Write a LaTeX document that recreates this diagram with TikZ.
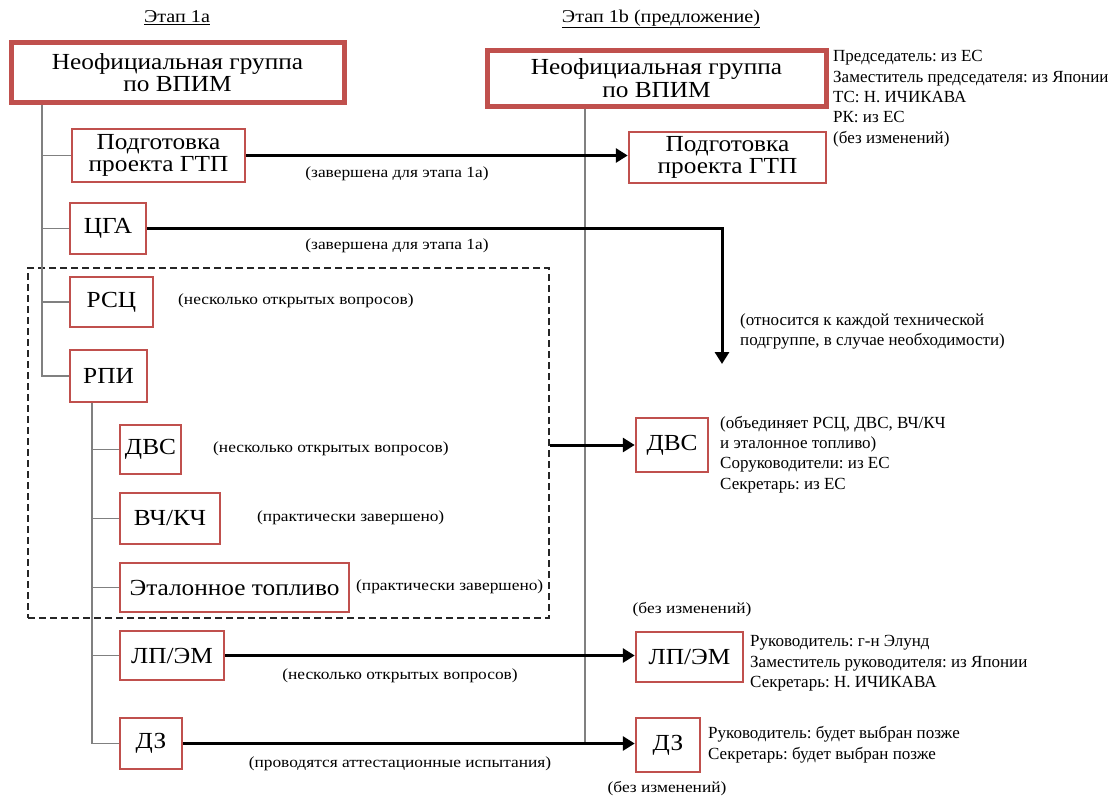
\documentclass[tikz,border=0pt]{standalone}
\usepackage{fontspec}
\setmainfont{Liberation Serif}
\newfontfamily\boxfont[FakeStretch=1.1]{Liberation Serif}
\newfontfamily\lblfont[FakeStretch=1.12]{Liberation Serif}
\usetikzlibrary{arrows.meta}
\definecolor{boxred}{RGB}{192,80,77}
\definecolor{conngray}{RGB}{128,128,128}
\frenchspacing
\begin{document}
\begin{tikzpicture}[x=1pt,y=-1pt,
  boxbase/.style={draw=boxred,fill=white,inner sep=0pt,align=center,font=\boxfont\fontsize{23}{22.5}\selectfont},
  mainbox/.style={boxbase,line width=5pt},
  subbox/.style={boxbase,line width=2.5pt},
  conn/.style={draw=conngray,line width=1.6pt},
  bigarrow/.style={draw=black,line width=3pt,-{Triangle[length=12pt,width=14pt]}},
  lbl/.style={inner sep=0pt,font=\lblfont\fontsize{15.5}{18}\selectfont},
  ttl/.style={inner sep=0pt,font=\lblfont\fontsize{18}{21}\selectfont},
  info/.style={inner sep=0pt,align=left,anchor=north west,font=\fontsize{17}{20.3}\selectfont},
  dashbox/.style={draw=black!85,line width=2pt,dash pattern=on 7pt off 4pt,inner sep=0pt}
]
\useasboundingbox (0,0) rectangle (1117,801);

% titles
\node[ttl] (t1) at (177,18) {\underline{Этап 1а}};
\node[ttl] (t2) at (661,19) {\underline{Этап 1b (предложение)}};

% dashed grouping box
\node[dashbox,minimum width=521pt,minimum height=350pt] (dash) at (288.5,443) {};

% guide coordinates
\coordinate (vL) at (42,0);
\coordinate (vS) at (92,0);
\coordinate (vR) at (585,0);

% left column
\node[mainbox,minimum width=333pt,minimum height=60pt] (mainL) at (177.5,72.5) {Неофициальная группа\\по ВПИМ};
\node[subbox,minimum width=173pt,minimum height=53pt] (gtpL) at (158.5,155.5) {Подготовка\\проекта ГТП};
\node[subbox,minimum width=76pt,minimum height=51pt] (cga) at (108,228.5) {ЦГА};
\node[subbox,minimum width=83pt,minimum height=50pt] (rsc) at (111.5,302) {РСЦ};
\node[subbox,minimum width=77pt,minimum height=52pt] (rpi) at (108.5,376) {РПИ};
\node[subbox,minimum width=61pt,minimum height=49pt] (dvsL) at (150.5,449.5) {ДВС};
\node[subbox,minimum width=100pt,minimum height=51pt] (vch) at (170,518.5) {ВЧ/КЧ};
\node[subbox,minimum width=229pt,minimum height=49pt] (etl) at (234.5,587.5) {Эталонное топливо};
\node[subbox,minimum width=104pt,minimum height=49pt] (lpL) at (172,655.5) {ЛП/ЭМ};
\node[subbox,minimum width=62pt,minimum height=51pt] (dzL) at (151,743.5) {ДЗ};

% right column
\node[mainbox,minimum width=339pt,minimum height=56pt] (mainR) at (656.5,78) {Неофициальная группа\\по ВПИМ};
\node[subbox,minimum width=197pt,minimum height=51pt] (gtpR) at (727.5,157.5) {Подготовка\\проекта ГТП};
\node[subbox,minimum width=72pt,minimum height=54pt] (dvsR) at (672,445) {ДВС};
\node[subbox,minimum width=107pt,minimum height=50pt] (lpR) at (689.5,657) {ЛП/ЭМ};
\node[subbox,minimum width=64pt,minimum height=54pt] (dzR) at (668,745) {ДЗ};

% tree connectors (left)
\draw[conn] (mainL.south -| vL) |- (rpi.west);
\draw[conn] (gtpL.west) -- (gtpL.west -| vL);
\draw[conn] (cga.west) -- (cga.west -| vL);
\draw[conn] (rsc.west) -- (rsc.west -| vL);
\draw[conn] (rpi.south -| vS) |- (dzL.west);
\draw[conn] (dvsL.west) -- (dvsL.west -| vS);
\draw[conn] (vch.west) -- (vch.west -| vS);
\draw[conn] (etl.west) -- (etl.west -| vS);
\draw[conn] (lpL.west) -- (lpL.west -| vS);

% right vertical line
\draw[conn,line width=1.2pt] (mainR.south -| vR) -- (dzR.west -| vR);

% arrows
\draw[bigarrow] (gtpL.east) -- (gtpL.east -| gtpR.west);
\coordinate (cgaEnd) at (722,364);
\draw[bigarrow] (cga.east) -| (cgaEnd);
\draw[bigarrow] (dash.east |- dvsR.west) -- (dvsR.west);
\draw[bigarrow] (lpL.east) -- (lpL.east -| lpR.west);
\draw[bigarrow] (dzL.east) -- (dzL.east -| dzR.west);

% arrow labels
\node[lbl] (l1) at (397,174) {(завершена для этапа 1а)};
\node[lbl] (l2) at (397,246) {(завершена для этапа 1а)};
\node[lbl,anchor=west] (l3) at (178,301) {(несколько открытых вопросов)};
\node[lbl,anchor=west] (l4) at (213,449) {(несколько открытых вопросов)};
\node[lbl,anchor=west] (l5) at (257,518) {(практически завершено)};
\node[lbl,anchor=west] (l6) at (356,587) {(практически завершено)};
\node[lbl] (l7) at (400,676) {(несколько открытых вопросов)};
\node[lbl] (l8) at (400,764) {(проводятся аттестационные испытания)};
\node[info] (l9) at (740,313) {(относится к каждой технической\\подгруппе, в случае необходимости)};

% info texts
\node[info] (iMain) at (833,50.5) {Председатель: из ЕС\\Заместитель председателя: из Японии\\ТС: Н. ИЧИКАВА\\РК: из ЕС\\(без изменений)};
\node[info] (iDvs) at (720,416) {(объединяет РСЦ, ДВС, ВЧ/КЧ\\и эталонное топливо)\\Соруководители: из ЕС\\Секретарь: из ЕС};
\node[lbl] (iLp0) at (692,610) {(без изменений)};
\node[info] (iLp) at (750,635.5) {Руководитель: г-н Элунд\\Заместитель руководителя: из Японии\\Секретарь: Н. ИЧИКАВА};
\node[info] (iDz) at (708,726.5) {Руководитель: будет выбран позже\\Секретарь: будет выбран позже};
\node[lbl] (iDz0) at (667,789) {(без изменений)};
\end{tikzpicture}
\end{document}
